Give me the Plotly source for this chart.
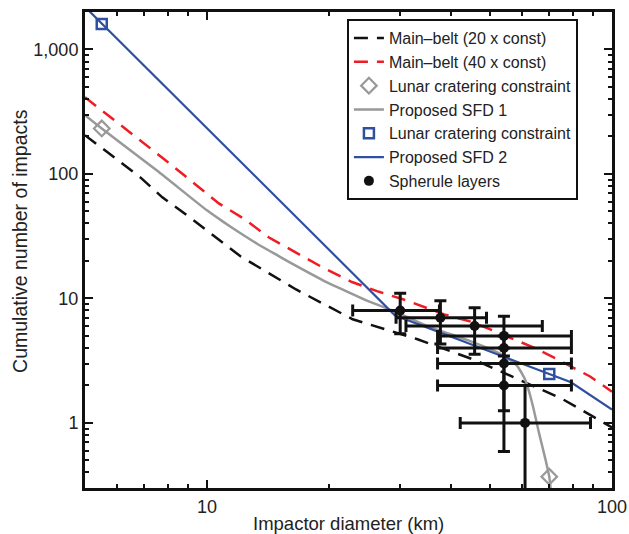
import plotly.graph_objects as go

# ---- data ----
mb20_x = [5, 6.85, 7.76, 9.12, 12.1, 16.6, 22.9, 33.1, 46.3, 75.3, 88.3, 100]
mb20_y = [205, 93.8, 64.9, 44.2, 21.8, 11.8, 6.8, 4.7, 3.16, 1.56, 1.16, 0.92]

mb40_x = [5, 7.9, 10.7, 12.35, 14.2, 16.6, 19.2, 22.8, 26.6, 30.6, 38.5, 45.4, 52.6, 64.1, 73.6, 88.3, 100]
mb40_y = [413, 129, 58, 43.6, 31.0, 23.2, 17.9, 13.55, 11.3, 9.8, 7.45, 6.43, 5.25, 4.03, 3.22, 2.36, 1.78]

lunar1_x = [5.5, 70]
lunar1_y = [232, 0.37]

sfd1_x = [5, 5.5, 7.54, 10, 11, 12, 13.3, 15, 17, 19.5, 22.4, 25, 27.1, 29.5, 35, 45, 52,
          54.7, 58.3, 61.2, 63.6, 66.1, 68.6, 70, 70.6]
sfd1_y = [297, 232, 106, 51, 41, 34, 27.5, 22, 17.5, 13.8, 11.2, 9.5, 8.6, 7.7, 6.0, 4.5, 3.7,
          3.36, 2.87, 2.18, 1.42, 0.82, 0.5, 0.37, 0.29]

lunar2_x = [5.5, 70]
lunar2_y = [1600, 2.47]

sfd2_x = [5, 29.1, 70, 79.2, 100]
sfd2_y = [2200, 7.33, 2.47, 2.12, 1.28]

sph_x = [30.0, 37.7, 45.8, 54.1, 54.1, 54.1, 54.1, 61.0]
sph_y = [8.0, 7.0, 6.0, 5.0, 4.0, 3.0, 2.0, 1.0]
sph_ex_minus = [7.1, 8.4, 14.8, 17.0, 17.0, 17.0, 17.0, 18.8]
sph_ex_plus = [7.5, 11.3, 21.5, 25.3, 25.3, 25.3, 25.3, 27.5]
sph_ey_minus = [2.8, 2.7, 2.44, 1.55, 1.0, 1.75, 1.41, 0.99]
sph_ey_plus = [3.0, 2.6, 2.4, 2.2, 1.0, 1.0, 1.0, 1.0]

x_ticks = [10, 100]
y_ticks = [1, 10, 100, 1000]
y_ticktext = ["1", "10", "100", "1,000"]
x_minor = [6, 7, 8, 9, 20, 30, 40, 50, 60, 70, 80, 90]
y_minor = [0.4, 0.5, 0.6, 0.7, 0.8, 0.9, 2, 3, 4, 5, 6, 7, 8, 9,
           20, 30, 40, 50, 60, 70, 80, 90, 200, 300, 400, 500, 600, 700, 800, 900, 2000]

FONT = "Liberation Sans, Arial, Helvetica, sans-serif"
BLUE = "#2f4f9f"
RED = "#ee1c25"
GRAY = "#999999"

fig = go.Figure()

fig.add_trace(go.Scatter(x=mb20_x, y=mb20_y, mode="lines", name="Main\u2013belt (20 x const)",
                         line=dict(color="#111111", width=2.5, dash="14px,9px")))
fig.add_trace(go.Scatter(x=mb40_x, y=mb40_y, mode="lines", name="Main\u2013belt (40 x const)",
                         line=dict(color=RED, width=2.5, dash="14px,9px")))
fig.add_trace(go.Scatter(x=lunar1_x, y=lunar1_y, mode="markers", name="Lunar cratering constraint",
                         marker=dict(symbol="diamond-open", size=12, color=GRAY, line=dict(width=2.2, color=GRAY))))
fig.add_trace(go.Scatter(x=sfd1_x, y=sfd1_y, mode="lines", name="Proposed SFD 1",
                         line=dict(color=GRAY, width=2.5, shape="spline", smoothing=0.6)))
fig.add_trace(go.Scatter(x=lunar2_x, y=lunar2_y, mode="markers", name="Lunar cratering constraint",
                         marker=dict(symbol="square-open", size=10, color=BLUE, line=dict(width=2.5, color=BLUE))))
fig.add_trace(go.Scatter(x=sfd2_x, y=sfd2_y, mode="lines", name="Proposed SFD 2",
                         line=dict(color=BLUE, width=2.2)))
fig.add_trace(go.Scatter(x=sph_x, y=sph_y, mode="markers", name="Spherule layers", showlegend=False,
                         marker=dict(symbol="circle", size=10, color="#111111"),
                         error_x=dict(type="data", symmetric=False, array=sph_ex_plus, arrayminus=sph_ex_minus,
                                      color="#111111", thickness=3, width=6),
                         error_y=dict(type="data", symmetric=False, array=sph_ey_plus, arrayminus=sph_ey_minus,
                                      color="#111111", thickness=3, width=6)))
fig.add_trace(go.Scatter(x=[None], y=[None], mode="markers", name="Spherule layers",
                         marker=dict(symbol="circle", size=10, color="#111111")))

axis_common = dict(type="log", showgrid=False, zeroline=False, showline=True, linecolor="#111111",
                   linewidth=3, ticks="inside", ticklen=8, tickwidth=2, tickcolor="#111111",
                   mirror="allticks", automargin=False,
                   tickfont=dict(family=FONT, size=18, color="#222222"))

fig.update_xaxes(range=[0.699, 2.0], tickmode="array", tickvals=x_ticks, ticktext=["10", "100"],
                 minor=dict(tickmode="array", tickvals=x_minor, ticks="inside", ticklen=4, tickwidth=2,
                            tickcolor="#111111", showgrid=False),
                 **axis_common)
fig.update_yaxes(range=[-0.523, 3.301], tickmode="array", tickvals=y_ticks, ticktext=y_ticktext,
                 minor=dict(tickmode="array", tickvals=y_minor, ticks="inside", ticklen=4, tickwidth=2,
                            tickcolor="#111111", showgrid=False),
                 **axis_common)

fig.update_layout(
    width=629, height=534,
    margin=dict(l=85, r=17, t=12, b=46, autoexpand=False),
    paper_bgcolor="white", plot_bgcolor="white",
    font=dict(family=FONT, color="#222222"),
    showlegend=True,
    legend=dict(x=0.497, y=0.985, xanchor="left", yanchor="top", bgcolor="white",
                bordercolor="#111111", borderwidth=2, font=dict(family=FONT, size=16, color="#222222"),
                tracegroupgap=0),
    annotations=[
        dict(text="Impactor diameter (km)", xref="paper", yref="paper", x=0.5, y=0, yshift=-35,
             xanchor="center", yanchor="middle", showarrow=False,
             font=dict(family=FONT, size=18.5, color="#222222")),
        dict(text="Cumulative number of impacts", xref="paper", yref="paper", x=0, xshift=-65, y=0.519,
             xanchor="center", yanchor="middle", textangle=-90, showarrow=False,
             font=dict(family=FONT, size=19.5, color="#222222")),
    ],
)

fig.write_html("out.html")
